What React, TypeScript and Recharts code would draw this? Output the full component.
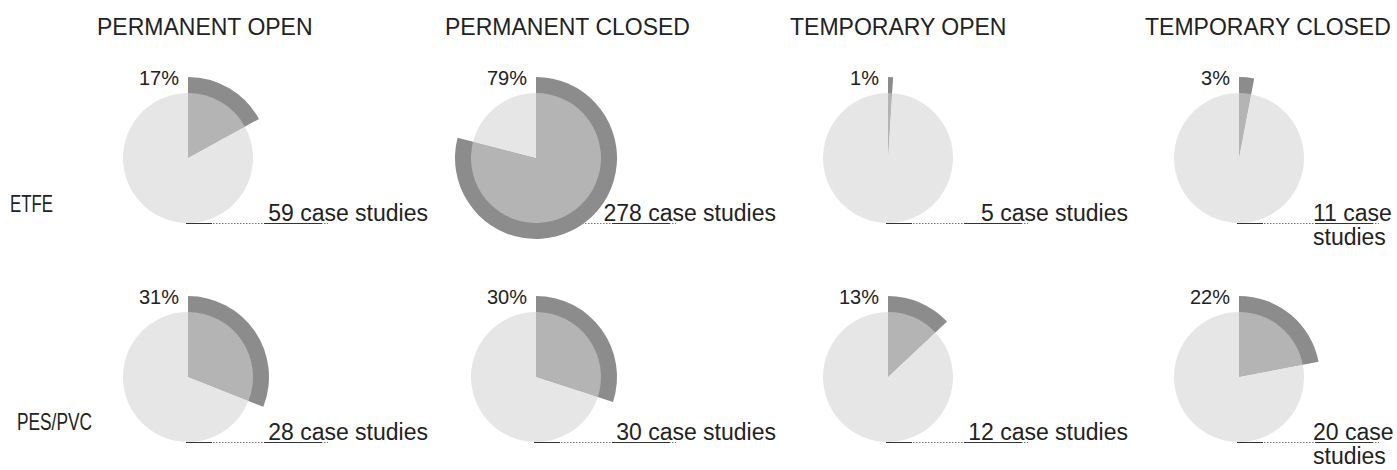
import React from 'react';
import { PieChart, Pie, Cell } from 'recharts';

// ---- data ----
const categories = ['PERMANENT OPEN', 'PERMANENT CLOSED', 'TEMPORARY OPEN', 'TEMPORARY CLOSED'];
const materials = ['ETFE', 'PES/PVC'];
const etfeShare = [17, 79, 1, 3];
const pesShare = [31, 30, 13, 22];
const etfeCases = [59, 278, 5, 11];
const pesCases = [28, 30, 12, 20];

// ---- layout / style ----
const W = 1397;
const H = 470;
const colX = [188, 536, 888, 1239];
const rowY = [158, 377];
const titleX = [97, 445, 790, 1145];
const labelX = [10, 17];
const labelY = [212, 430];
const labelW = [43, 75];
const OUTER_R = 81;
const INNER_R = 65;
const DARK = '#8c8c8c';
const MID = '#b4b4b4';
const LIGHT = '#e6e6e6';
const TEXT = '#222';
const FONT = '"Liberation Sans", Arial, Helvetica, sans-serif';

const shares = [etfeShare, pesShare];
const cases = [etfeCases, pesCases];

export default function App() {
  const cells: { r: number; i: number; pct: number; n: number }[] = [];
  materials.forEach((_, r) =>
    categories.forEach((__, i) => cells.push({ r, i, pct: shares[r][i], n: cases[r][i] }))
  );

  const underlines = cells.map((c) => {
    const cx = colX[c.i];
    const y = rowY[c.r] + 65.5;
    return (
      <g key={`ul-${c.r}-${c.i}`}>
        <line x1={cx - 2} x2={cx + 140} y1={y} y2={y} stroke="#777" strokeWidth={1} strokeDasharray="1.5 1.5" />
        <line x1={cx - 2} x2={cx + 140} y1={y} y2={y} stroke="#333" strokeWidth={1} strokeDasharray="26 52 58 200" />
      </g>
    );
  });

  const pies = cells.flatMap((c) => {
    const data = [
      { name: 'share', value: c.pct },
      { name: 'rest', value: 100 - c.pct },
    ];
    return [
      <Pie
        key={`o-${c.r}-${c.i}`}
        data={data}
        dataKey="value"
        cx={colX[c.i]}
        cy={rowY[c.r]}
        innerRadius={0}
        outerRadius={OUTER_R}
        startAngle={90}
        endAngle={-270}
        stroke="none"
        isAnimationActive={false}
      >
        <Cell fill={DARK} />
        <Cell fill="transparent" />
      </Pie>,
      <Pie
        key={`i-${c.r}-${c.i}`}
        data={data}
        dataKey="value"
        cx={colX[c.i]}
        cy={rowY[c.r]}
        innerRadius={0}
        outerRadius={INNER_R}
        startAngle={90}
        endAngle={-270}
        stroke="none"
        isAnimationActive={false}
      >
        <Cell fill={MID} />
        <Cell fill={LIGHT} />
      </Pie>,
    ];
  });

  const texts: React.ReactNode[] = [];
  categories.forEach((t, i) =>
    texts.push(
      <text key={`t-${i}`} x={titleX[i]} y={35} fontSize={23} fontFamily={FONT} fill={TEXT}>
        {t}
      </text>
    )
  );
  materials.forEach((m, r) =>
    texts.push(
      <text
        key={`m-${r}`}
        x={labelX[r]}
        y={labelY[r]}
        fontSize={24}
        fontFamily={FONT}
        fill={TEXT}
        textLength={labelW[r]}
        lengthAdjust="spacingAndGlyphs"
      >
        {m}
      </text>
    )
  );
  cells.forEach((c) => {
    const cx = colX[c.i];
    const cy = rowY[c.r];
    texts.push(
      <text key={`p-${c.r}-${c.i}`} x={cx - 9} y={cy - 73} fontSize={20} fontFamily={FONT} fill={TEXT} textAnchor="end">
        {`${c.pct}%`}
      </text>
    );
    if (c.i === 3) {
      texts.push(
        <text key={`c-${c.r}-${c.i}`} x={cx + 74} y={cy + 63} fontSize={23} fontFamily={FONT} fill={TEXT}>
          <tspan x={cx + 74} dy={0}>{`${c.n} case`}</tspan>
          <tspan x={cx + 74} dy={24}>studies</tspan>
        </text>
      );
    } else {
      texts.push(
        <text key={`c-${c.r}-${c.i}`} x={cx + 240} y={cy + 63} fontSize={23} fontFamily={FONT} fill={TEXT} textAnchor="end">
          {`${c.n} case studies`}
        </text>
      );
    }
  });

  return (
    <div style={{ position: 'absolute', left: 0, top: 0, width: W, height: H, background: '#fff' }}>
      <PieChart width={W} height={H} margin={{ top: 0, right: 0, bottom: 0, left: 0 }}>
        {underlines}
        {pies}
        {texts}
      </PieChart>
    </div>
  );
}
